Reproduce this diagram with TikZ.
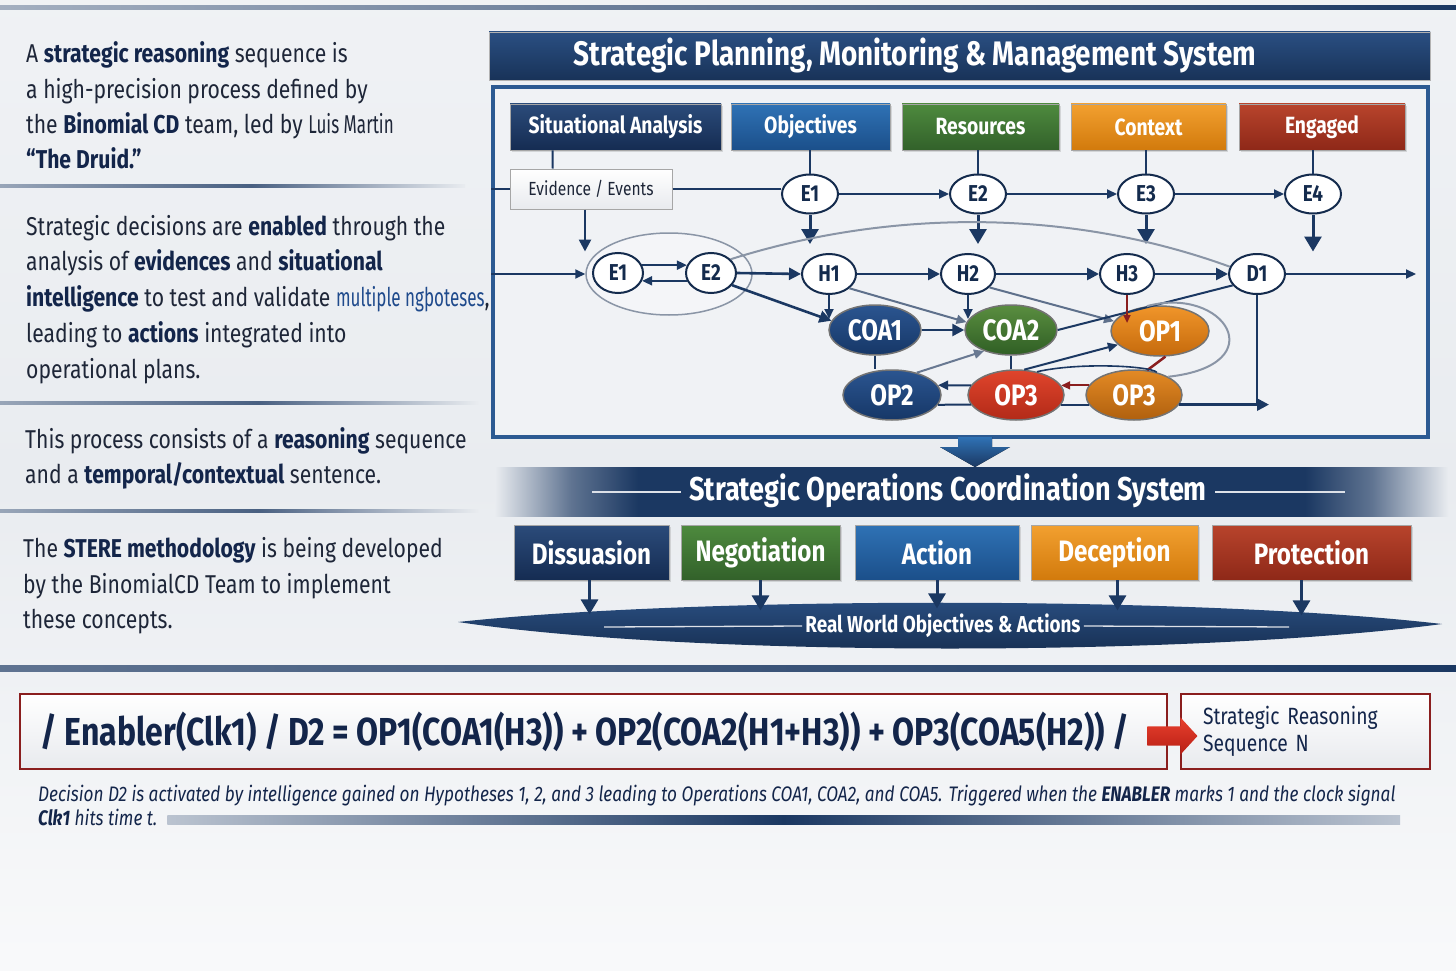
\documentclass[tikz,border=0pt]{standalone}
\usepackage{fontspec}
\setmainfont{Fira Sans}[FakeStretch=0.82]
\newfontfamily\condf{Fira Sans}[FakeStretch=0.66]
\usetikzlibrary{arrows.meta,shapes.geometric,shapes.arrows,calc,shadows}
\definecolor{navy}{HTML}{1B3862}
\definecolor{dnavy}{HTML}{142B4D}
\definecolor{txt}{HTML}{1E2638}
\definecolor{btxt}{HTML}{13254A}
\definecolor{bg}{HTML}{E9ECF0}
\definecolor{framefill}{HTML}{F0F2F5}
\definecolor{frameblue}{HTML}{2C5A92}
\definecolor{dred}{HTML}{8A1E1E}
\definecolor{linkblue}{HTML}{1F4A8C}
\definecolor{grayln}{HTML}{8A95A6}
\definecolor{ctb}{HTML}{2A4F82}
\definecolor{nvt}{HTML}{2B4B7A}
\definecolor{nvb}{HTML}{152C52}
\definecolor{blt}{HTML}{2F72B5}
\definecolor{blb}{HTML}{1B4F8A}
\definecolor{grt}{HTML}{4E8A3E}
\definecolor{grb}{HTML}{32612A}
\definecolor{ort}{HTML}{F2A030}
\definecolor{orb}{HTML}{D27A0C}
\definecolor{rdt}{HTML}{B8442C}
\definecolor{rdb}{HTML}{8E2818}
\definecolor{lgr}{HTML}{E8EAEE}
\definecolor{cnt}{HTML}{2B5590}
\definecolor{cnb}{HTML}{163767}
\definecolor{cgt}{HTML}{5A8E40}
\definecolor{cgb}{HTML}{2F5E24}
\definecolor{cot}{HTML}{F0952A}
\definecolor{cob}{HTML}{C56A0C}
\definecolor{crt}{HTML}{E0452C}
\definecolor{crb}{HTML}{B22A18}
\definecolor{cqt}{HTML}{E38A25}
\definecolor{cqb}{HTML}{B0600E}
\definecolor{rat}{HTML}{E8402E}
\definecolor{rab}{HTML}{B81E14}
\pgfdeclarehorizontalshading{bnr}{100bp}{color(0bp)=(bg); color(25bp)=(bg); color(29bp)=(navy!70); color(32.5bp)=(navy); color(67.5bp)=(navy); color(71bp)=(navy!70); color(75bp)=(bg); color(100bp)=(bg)}
\pgfdeclarehorizontalshading{sepsh}{100bp}{color(0bp)=(navy!45); color(25bp)=(navy!45); color(52bp)=(navy!80); color(75bp)=(bg); color(100bp)=(bg)}
\tikzset{
 ln/.style={draw=navy, line width=2pt},
 arr/.style={draw=navy, line width=2.6pt, -{Triangle[length=12pt,width=12pt]}},
 barr/.style={draw=navy, line width=3pt, -{Triangle[length=15pt,width=17pt]}},
 sarr/.style={draw=navy, line width=2pt, -{Triangle[length=10pt,width=9pt]}},
 hdr/.style={minimum height=46pt, inner sep=0pt, text=white, font=\fontsize{23.5}{26}\selectfont\bfseries, draw=black!35, line width=0.8pt, drop shadow={opacity=0.25, shadow xshift=2pt, shadow yshift=-2pt}},
 bx/.style={minimum height=55pt, inner sep=0pt, text=white, font=\fontsize{29.5}{32}\selectfont\bfseries, draw=black!35, line width=0.8pt, drop shadow={opacity=0.25, shadow xshift=2pt, shadow yshift=-2pt}},
 wn/.style={ellipse, draw=dnavy, line width=2pt, fill=white, inner sep=0pt, minimum width=56pt, minimum height=39pt, text=dnavy, font=\fontsize{23}{25}\selectfont\bfseries},
 cn/.style={ellipse, draw=black!55, line width=1.5pt, inner sep=0pt, minimum width=94pt, minimum height=50pt, text=white, font=\fontsize{29.5}{31}\selectfont\bfseries},
 ltx/.style={anchor=base west, inner sep=0pt, text=txt, font=\fontsize{25.8}{30}\selectfont},
}
\newcommand{\bb}[1]{{\bfseries\color{btxt}#1}}
\begin{document}
\begin{tikzpicture}[x=1pt,y=-1pt]
\useasboundingbox (0,0) rectangle (1456,971);
% background
\shade[top color=bg!70!white, bottom color=bg!30!white, middle color=bg] (0,0) rectangle (1456,971);
% top line
\shade[left color=navy!40, right color=navy] (0,6) rectangle (1456,10);
% left separators
\shade[shading=sepsh] (0,184) rectangle (465,187);
\shade[shading=sepsh] (0,401) rectangle (478,404);
\shade[shading=sepsh] (0,509) rectangle (478,512);
% left text
\node[ltx] (t1) at (26,63) {A \bb{strategic reasoning} sequence is};
\node[ltx] (t2) at (26,99) {a high-precision process defined by};
\node[ltx] (t3) at (26,134) {the \bb{Binomial CD} team, led by {\condf Luis Martin}};
\node[ltx] (t4) at (26,168) {\bb{“The Druid.”}};
\node[ltx] (t5) at (26,235) {Strategic decisions are \bb{enabled} through the};
\node[ltx] (t6) at (26,270) {analysis of \bb{evidences} and \bb{situational}};
\node[ltx] (t7) at (26,306) {\bb{intelligence} to test and validate {\condf\color{linkblue}multiple ngþoteses},};
\node[ltx] (t8) at (26,342) {leading to \bb{actions} integrated into};
\node[ltx] (t9) at (26,378) {operational plans.};
\node[ltx] (t10) at (25,448) {This process consists of a \bb{reasoning} sequence};
\node[ltx] (t11) at (25,483) {and a \bb{temporal/contextual} sentence.};
\node[ltx] (t12) at (23,557) {The \bb{STERE methodology} is being developed};
\node[ltx] (t13) at (23,593) {by the BinomialCD Team to implement};
\node[ltx] (t14) at (23,628) {these concepts.};
% title bar
\node[minimum width=941pt, minimum height=48pt, inner sep=0pt, top color=ctb, bottom color=navy!90!black, draw=black!30] (tbar) at (959.5,56) {};
\node[text=white, font=\fontsize{34}{36}\selectfont\bfseries, inner sep=0pt] (ttl) at (915,55) {Strategic Planning, Monitoring \& Management System};
% frame
\node[draw=frameblue, line width=3.5pt, fill=framefill, minimum width=935pt, minimum height=350pt, inner sep=0pt] (frame) at (960.5,262) {};
% headers
\node[hdr, top color=nvt, bottom color=nvb, minimum width=211pt] (sa) at (615.5,127) {Situational Analysis};
\node[hdr, top color=blt, bottom color=blb, minimum width=159pt] (obj) at (810.5,127) {Objectives};
\node[hdr, top color=grt, bottom color=grb, minimum width=157pt] (res) at (980.5,127) {Resources};
\node[hdr, top color=ort, bottom color=orb, minimum width=155pt] (ctx) at (1148.5,127) {Context};
\node[hdr, top color=rdt, bottom color=rdb, minimum width=166pt] (eng) at (1322,127) {Engaged};
\node[top color=white, bottom color=lgr, draw=black!35, line width=1pt, minimum width=162pt, minimum height=40pt, inner sep=0pt, text=txt, font=\fontsize{19}{22}\selectfont] (ev) at (591,189) {Evidence / Events};
% E row
\node[wn] (E1t) at (810,194) {E1};
\node[wn] (E2t) at (978,194) {E2};
\node[wn] (E3t) at (1146,194) {E3};
\node[wn] (E4t) at (1313,194) {E4};
% group
\node[ellipse, draw=grayln, line width=1.5pt, fill=white, fill opacity=0.3, draw opacity=1, minimum width=166pt, minimum height=82pt, inner sep=0pt] (grp) at (669,274) {};
\node[wn, minimum width=50pt, minimum height=40pt] (ge1) at (618,273) {E1};
\node[wn, minimum width=50pt, minimum height=40pt] (ge2) at (711,273) {E2};
\node[wn, minimum width=54pt, minimum height=40pt] (H1) at (829,274) {H1};
\node[wn, minimum width=54pt, minimum height=40pt] (H2) at (968,274) {H2};
\node[wn, minimum width=54pt, minimum height=40pt] (H3) at (1127,274) {H3};
\node[wn, minimum width=56pt, minimum height=40pt] (D1) at (1257,274) {D1};
% coloured nodes
\node[cn, top color=cnt, bottom color=cnb, minimum width=92pt] (COA1) at (875,330) {COA1};
\node[cn, top color=cgt, bottom color=cgb, minimum width=92pt] (COA2) at (1011,330) {COA2};
\node[cn, top color=cot, bottom color=cob, minimum width=98pt] (OP1) at (1160,331) {OP1};
\node[cn, top color=cnt, bottom color=cnb, minimum width=98pt] (OP2) at (892,395) {OP2};
\node[cn, top color=crt, bottom color=crb, minimum width=96pt] (OP3r) at (1016,395) {OP3};
\node[cn, top color=cqt, bottom color=cqb, minimum width=96pt] (OP3o) at (1134,395) {OP3};
% connectors top
\draw[ln] ($(sa.south west)+(43,0)$) -- ($(ev.north west)+(43,0)$);
\draw[ln] (frame.west |- ev.west) -- (ev.west);
\draw[ln] (ev.east) -- (ev.east -| E1t.west);
\draw[ln] (E1t.north |- obj.south) -- (E1t.north);
\draw[ln] (E2t.north |- res.south) -- (E2t.north);
\draw[ln] (E3t.north |- ctx.south) -- (E3t.north);
\draw[ln] (E4t.north |- eng.south) -- (E4t.north);
\draw[sarr] (E1t.east) -- (E2t.west);
\draw[sarr] (E2t.east) -- (E3t.west);
\draw[sarr] (E3t.east) -- (E4t.west);
\draw[barr] (E1t.south) -- ($(E1t.south |- H1.north)+(0,-9)$);
\draw[barr] (E2t.south) -- ($(E2t.south |- H2.north)+(0,-9)$);
\draw[barr] (E3t.south) -- ($(E3t.south |- H3.north)+(0,-9)$);
\draw[barr] (E4t.south) -- ++(0,37);
\draw[arr] ($(ev.south)+(-6,0)$) -- ++(0,42);
\draw[sarr] (frame.west |- grp.west) -- (grp.west);
\draw[sarr] (ge1.18) -- (ge2.162);
\draw[sarr] (ge2.198) -- (ge1.342);
\draw[grayln, line width=2pt] (ge2.35) .. controls (880,212) and (1060,205) .. (D1.165);
\draw[arr] (ge2.east) -- (H1.west);
\draw[arr] (H1.east) -- (H2.west);
\draw[arr] (H2.east) -- (H3.west);
\draw[arr] (H3.east) -- (D1.west);
\draw[sarr] (D1.east) -- ++(130,0);
% middle connectors
\draw[arr] (ge2.330) -- (COA1.168);
\draw[sarr] (H1.south) -- ++(0,24);
\draw[sarr] (H2.south) -- ++(0,24);
\draw[sarr, draw=grayln!60!navy] (H1.325) -- (COA2.170);
\draw[sarr, draw=grayln!60!navy] (H2.328) -- (OP1.168);
\draw[arr] (COA1.east) -- (COA2.west);
\draw[ln] (COA2.east) -- (D1.205);
\draw[dred, line width=2pt, -{Triangle[length=8pt,width=7pt]}] (H3.south) -- ++(0,28);
\draw[dred, line width=2.5pt] (OP1.282) -- (OP3o.62);
\draw[ln] (COA1.south) -- (COA1.south |- OP2.north);
\draw[ln] (COA2.south) -- (COA2.south |- OP3r.north);
\draw[sarr, draw=grayln!70!navy] (OP2.42) -- (COA2.218);
\draw[sarr] (OP3r.72) -- (OP1.198);
\draw[navy, line width=1.6pt] (OP3r.48) .. controls (1080,362) and (1150,366) .. (OP3o.45);
\draw[grayln, line width=2pt] (OP1.118) .. controls (1225,285) and (1275,365) .. (OP3o.28);
\draw[dred, line width=2pt, -{Triangle[length=9pt,width=8pt]}] (OP3o.168) -- (OP3r.12);
\draw[sarr] (OP3r.168) -- (OP2.12);
\draw[ln] (OP2.348) -- (OP3r.192);
\draw[ln] (OP3r.348) -- (OP3o.192);
\coordinate (dj) at (D1.south |- OP3o.348);
\draw[ln] (D1.south) -- (dj);
\draw[arr] (OP3o.348) -- ($(dj)+(12,0)$);
% big chevron
\fill[top color=blt, bottom color=navy] (958,437) -- (992,437) -- (992,447) -- (1010,447) -- (975,467) -- (940,447) -- (958,447) -- cycle;
% banner
\shade[shading=bnr] (495,467) rectangle (1448,516);
\shade[shading=bnr, opacity=0.3] (495,470) rectangle (1448,479);
\node[text=white, font=\fontsize{33}{35}\selectfont\bfseries, inner sep=2pt] (bt) at (948,491) {Strategic Operations Coordination System};
\draw[white!85!navy, line width=1.3pt] (592,492) -- ($(bt.west)+(-6,1)$);
\draw[white!85!navy, line width=1.3pt] ($(bt.east)+(6,1)$) -- (1345,492);
% bottom boxes
\node[bx, top color=nvt, bottom color=nvb, minimum width=155pt] (dis) at (591.5,552.5) {Dissuasion};
\node[bx, top color=grt, bottom color=grb, minimum width=159pt] (neg) at (760.5,552.5) {Negotiation};
\node[bx, top color=blt, bottom color=blb, minimum width=164pt] (act) at (937,552.5) {Action};
\node[bx, top color=ort, bottom color=orb, minimum width=167pt] (dec) at (1114.5,552.5) {Deception};
\node[bx, top color=rdt, bottom color=rdb, minimum width=199pt] (pro) at (1311.5,552.5) {Protection};
% lens
\shade[top color=ctb, bottom color=navy!80!black] (458,622) .. controls (700,596) and (1200,596) .. (1442,624) .. controls (1200,656) and (700,658) .. cycle;
\node[text=white, font=\fontsize{23}{25}\selectfont\bfseries, inner sep=3pt] (rw) at (943,626) {Real World Objectives \& Actions};
\draw[white!85!navy, line width=1.3pt] (604,627) -- (rw.west);
\draw[white!85!navy, line width=1.3pt] (rw.east) -- (1289,627);
\draw[barr] ($(dis.south)+(-2,0)$) -- ++(0,34);
\draw[barr] (neg.south) -- ++(0,30);
\draw[barr] (act.south) -- ++(0,28);
\draw[barr] ($(dec.south)+(3,0)$) -- ++(0,30);
\draw[barr] ($(pro.south)+(-10,0)$) -- ++(0,35);
% bottom separator
\shade[left color=navy!70, right color=navy] (0,665) rectangle (1456,671);
% formula
\node[draw=dred, line width=2pt, top color=white, bottom color=lgr, minimum width=1147pt, minimum height=75pt, inner sep=0pt, text=btxt, font=\fontsize{39}{42}\selectfont\bfseries] (fb) at (593.5,731.5) {/ Enabler(Clk1) / D2 = OP1(COA1(H3)) + OP2(COA2(H1+H3)) + OP3(COA5(H2)) /\hspace*{17pt}};
\node[draw=dred, line width=2pt, top color=white, bottom color=lgr, minimum width=249pt, minimum height=75pt, inner sep=0pt, align=left, text width=205pt, text=btxt, font=\fontsize{23.5}{27}\selectfont] (srs) at (1305.5,731.5) {Strategic Reasoning\\Sequence N};
\node[single arrow, top color=rat, bottom color=rab, minimum height=50pt, inner xsep=0pt, inner ysep=9.5pt, single arrow head extend=9pt, single arrow tip angle=95] (ra) at (1168,736) {};
% caption
\node[anchor=base west, inner sep=0pt, text=btxt, font=\fontsize{21}{24}\selectfont\itshape] (cap1) at (38,801) {Decision D2 is activated by intelligence gained on Hypotheses 1, 2, and 3 leading to Operations COA1, COA2, and COA5. Triggered when the \textbf{ENABLER} marks 1 and the clock signal};
\node[anchor=base west, inner sep=0pt, text=btxt, font=\fontsize{21}{24}\selectfont\itshape] (cap2) at (38,825) {\textbf{Clk1} hits time t.};
\shade[left color=navy!30, right color=navy!30, middle color=navy] ($(cap2.east)+(10,-1.5)$) rectangle (1400,824.5);
\end{tikzpicture}
\end{document}
